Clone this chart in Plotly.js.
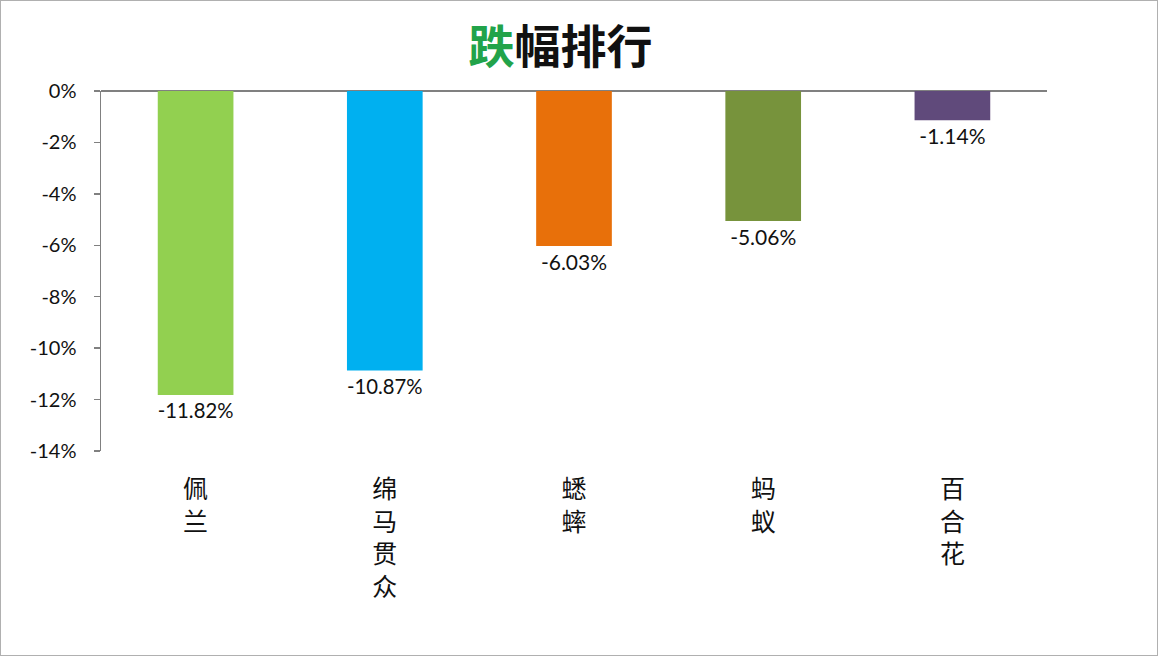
<!DOCTYPE html>
<html><head><meta charset="utf-8">
<script src="https://cdn.plot.ly/plotly-3.0.1.min.js"></script>
<style>html,body{margin:0;padding:0;background:#fff}#c{width:1156px;height:654px;border:1px solid #b0b0b0}</style>
</head><body><div id="c"></div>
<script>
const categories = ['佩兰', '绵马贯众', '蟋蟀', '蚂蚁', '百合花'];
const values = [-11.82, -10.87, -6.03, -5.06, -1.14];
const colors = ['#92D050', '#00B0F0', '#E8700A', '#77933C', '#604A7B'];
const yTickVals = [0, -2, -4, -6, -8, -10, -12, -14];
const yTickText = ['0%', '-2%', '-4%', '-6%', '-8%', '-10%', '-12%', '-14%'];

const vertical = categories.map(c => c.split('').join('<br>'));
const trace = {
  type: 'bar',
  x: categories,
  y: values,
  marker: {color: colors},
  text: values.map(v => v.toFixed(2) + '%'),
  textposition: 'outside',
  textfont: {family: 'Lato, "DejaVu Sans", sans-serif', size: 21, color: '#111'},
  cliponaxis: false,
  hoverinfo: 'none'
};
const layout = {
  width: 1156, height: 654,
  margin: {l: 100, r: 110, t: 90, b: 204},
  paper_bgcolor: '#fff', plot_bgcolor: '#fff',
  bargap: 0.6,
  showlegend: false,
  title: {
    text: '<span style="color:#22A34A">跌</span>幅排行',
    font: {family: '"Noto Sans CJK SC", sans-serif', size: 46, color: '#111', weight: 'bold'},
    xref: 'container', yref: 'container', x: 0.484, y: 0.93, xanchor: 'center', yanchor: 'middle'
  },
  xaxis: {
    type: 'category',
    tickvals: categories,
    ticktext: vertical,
    tickfont: {family: '"Noto Sans CJK SC", sans-serif', size: 25, color: '#111'},
    showline: false, showgrid: false, zeroline: false, ticks: '',
    ticklabelstandoff: 21
  },
  yaxis: {
    range: [-14, 0],
    tickvals: yTickVals,
    ticktext: yTickText,
    tickfont: {family: 'Lato, "DejaVu Sans", sans-serif', size: 20, color: '#111'},
    showline: true, linecolor: '#808080', linewidth: 1.5,
    ticks: 'outside', ticklen: 6, tickcolor: '#808080', tickwidth: 1.5,
    ticklabelstandoff: 13,
    showgrid: false,
    zeroline: true, zerolinecolor: '#808080', zerolinewidth: 1.5
  }
};
Plotly.newPlot('c', [trace], layout, {displayModeBar: false, staticPlot: true});
</script></body></html>
